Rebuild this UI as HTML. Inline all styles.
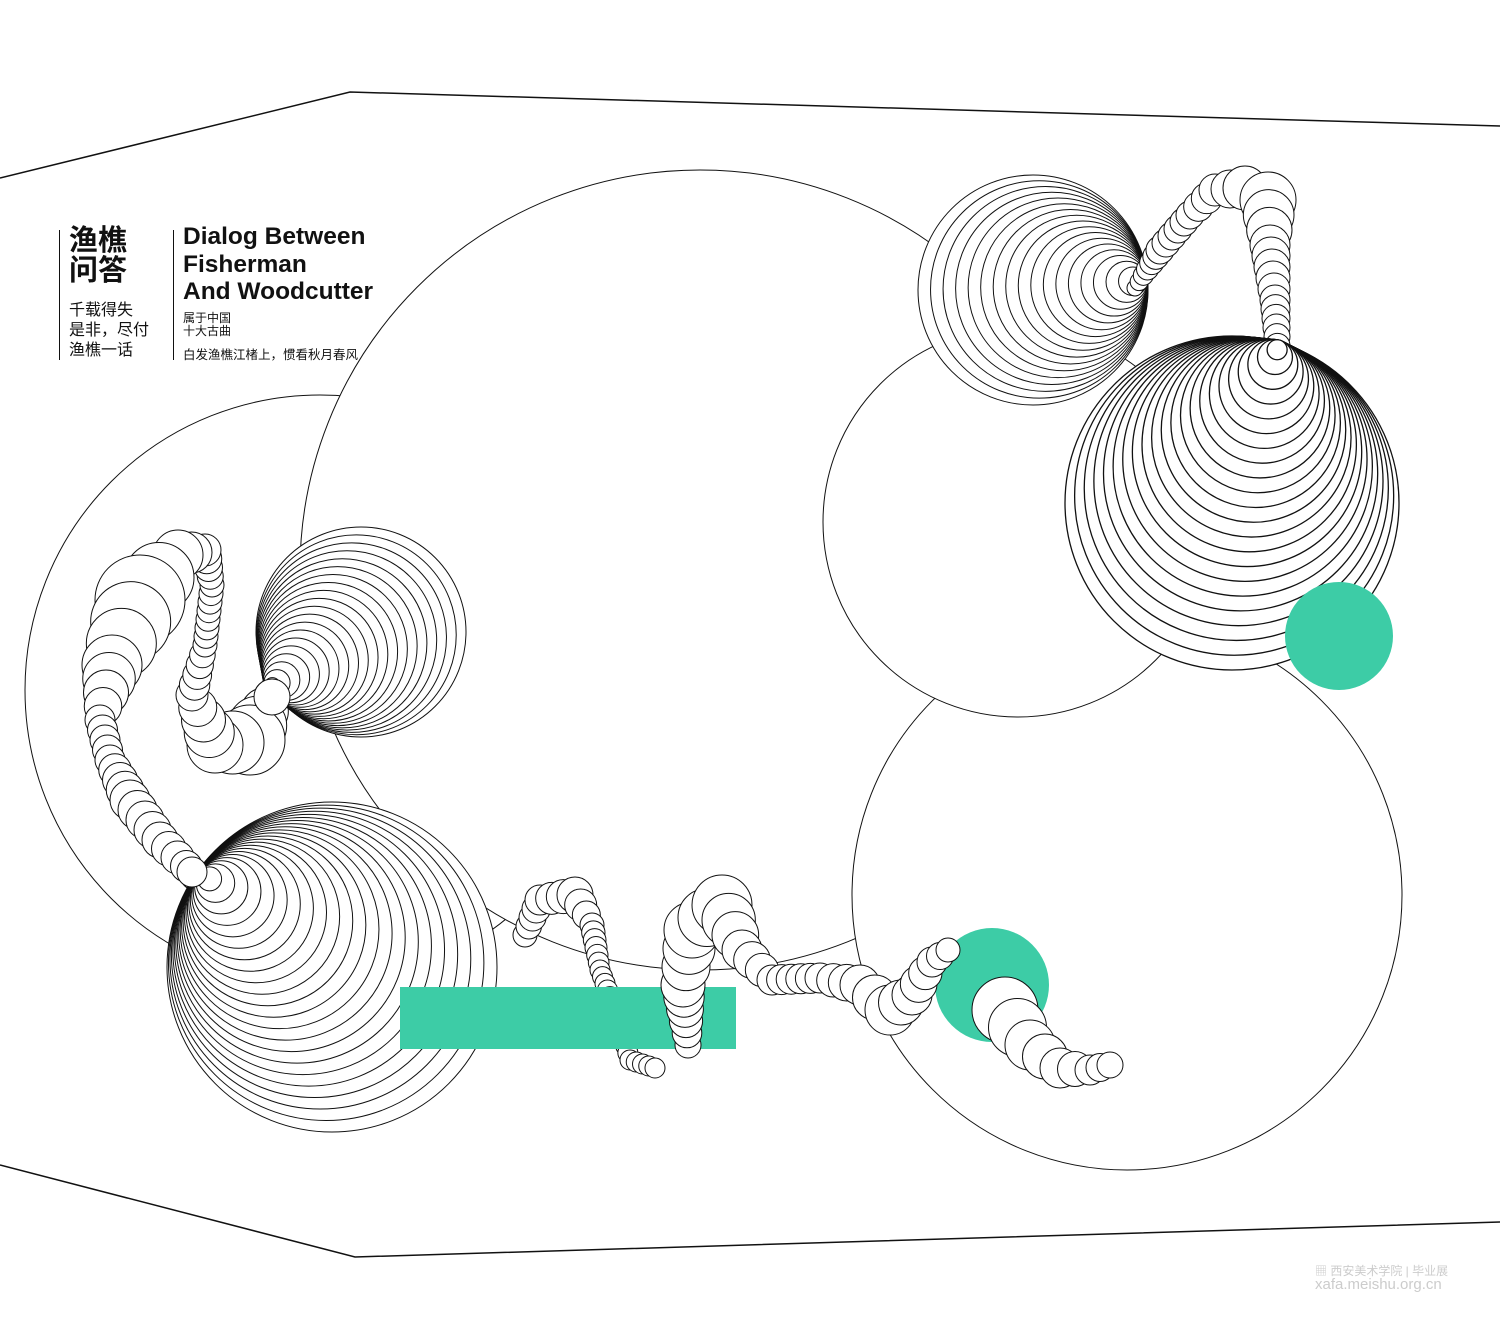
<!DOCTYPE html>
<html><head><meta charset="utf-8">
<style>
html,body{margin:0;padding:0;background:#fff;}
#w{position:relative;width:1500px;height:1319px;overflow:hidden;background:#fff;}
svg{position:absolute;left:0;top:0;}
.t{position:absolute;font-family:"Liberation Sans","Noto Sans CJK SC",sans-serif;color:#111;white-space:nowrap;}
</style></head><body>
<div id="w">
<svg id="s" width="1500" height="1319" viewBox="0 0 1500 1319" fill="none" stroke="#111" stroke-width="1">
<polyline points="0,178 350,92 1500,126" stroke-width="1.5"/>
<polyline points="0,1165 355,1257 1500,1222" stroke-width="1.5"/>
<circle cx="320" cy="690" r="295"/>
<circle cx="700" cy="570" r="400" fill="#fff"/>
<circle cx="1127" cy="895" r="275" fill="#fff"/>
<circle cx="1018" cy="522" r="195" fill="#fff"/>
<g id="g"></g>
</svg>
<div class="t" style="left:59px;top:230px;width:1px;height:130px;background:#111"></div>
<div class="t" style="left:173px;top:230px;width:1px;height:130px;background:#111"></div>
<div class="t" style="left:69px;top:226px;font-size:29px;font-weight:bold;line-height:30px">渔樵<br>问答</div>
<div class="t" style="left:69px;top:301px;font-size:16px;line-height:20px">千载得失<br>是非，尽付<br>渔樵一话</div>
<div class="t" style="left:183px;top:223px;font-size:24.5px;font-weight:bold;line-height:27.5px">Dialog Between<br>Fisherman<br>And Woodcutter</div>
<div class="t" style="left:183px;top:312px;font-size:12px;line-height:13px">属于中国<br>十大古曲</div>
<div class="t" style="left:183px;top:344px;font-size:12.5px;">白发渔樵江楮上，惯看秋月春风</div>
<div class="t" style="left:1315px;top:1276px;font-size:15px;color:#ccc">xafa.meishu.org.cn</div>
<div class="t" style="left:1315px;top:1262px;font-size:12px;color:#ccc">▦ 西安美术学院 | 毕业展</div>
</div>
<script>
var g=document.getElementById('g'),NS='http://www.w3.org/2000/svg';
function c(x,y,r,f,sw){var e=document.createElementNS(NS,'circle');e.setAttribute('cx',x);e.setAttribute('cy',y);e.setAttribute('r',r);e.setAttribute('fill',f||'#fff');if(sw)e.setAttribute('stroke-width',sw);g.appendChild(e);}
function fam(cx,cy,R,px,py,n,rmin,sw){for(var i=0;i<n;i++){var r=R-(R-rmin)*i/(n-1);var k=r/R;var x=px+(cx-px)*k,y=py+(cy-py)*k;c(x,y,r,'#fff',sw);}}
function chain(p){for(var i=0;i<p.length-1;i++){var a=p[i],b=p[i+1];var d=Math.hypot(b[0]-a[0],b[1]-a[1]);var st=Math.max(1,Math.round(d/((a[2]+b[2])*0.35)));for(var j=0;j<st;j++){var t=j/st;c(a[0]+(b[0]-a[0])*t,a[1]+(b[1]-a[1])*t,a[2]+(b[2]-a[2])*t);}}var l=p[p.length-1];c(l[0],l[1],l[2]);}
fam(1033,290,115,1147,280,18,8);
chain([[1135,288,8],[1160,250,14],[1190,215,14],[1215,190,16],[1245,188,22],[1268,200,28],[1270,245,20],[1275,300,15],[1278,355,12]]);
fam(1232,503,167,1280,340,22,10,1.3);
chain([[272,697,18],[250,740,35],[215,745,28],[192,695,16],[205,645,12],[212,585,12],[205,550,16],[178,555,25],[140,600,45],[112,665,30],[100,720,15],[110,760,15],[130,800,20],[160,840,18],[195,875,15]]);
fam(361,632,105,265,690,20,8);
c(272,697,18);
fam(332,967,165,200,872,22,12);
c(192,872,15);
chain([[525,935,12],[540,900,15],[575,895,18],[592,925,12],[600,970,10],[615,1010,10],[630,1060,10],[655,1068,10]]);
</script>
<svg width="1500" height="1319" style="position:absolute;left:0;top:0" fill="none">
<rect x="400" y="987" width="336" height="62" fill="#3dcca6"/>
<circle cx="1339" cy="636" r="54" fill="#3dcca6"/>
<circle cx="992" cy="985" r="57" fill="#3dcca6"/>
<g id="g2" stroke="#111" fill="#fff"></g>
</svg>
<script>
var g2=document.getElementById('g2');
function c2(x,y,r){var e=document.createElementNS(NS,'circle');e.setAttribute('cx',x);e.setAttribute('cy',y);e.setAttribute('r',r);g2.appendChild(e);}
function chain2(p){for(var i=0;i<p.length-1;i++){var a=p[i],b=p[i+1];var d=Math.hypot(b[0]-a[0],b[1]-a[1]);var st=Math.max(1,Math.round(d/((a[2]+b[2])*0.35)));for(var j=0;j<st;j++){var t=j/st;c2(a[0]+(b[0]-a[0])*t,a[1]+(b[1]-a[1])*t,a[2]+(b[2]-a[2])*t);}}var l=p[p.length-1];c2(l[0],l[1],l[2]);}
chain2([[688,1045,13],[683,985,22],[692,930,28],[722,905,30],[742,950,20],[772,980,15],[820,978,15],[860,985,20],[890,1010,25],[912,995,20],[932,962,15],[948,950,12]]);
chain2([[1005,1010,33],[1030,1045,25],[1060,1068,20],[1090,1070,15],[1110,1065,13]]);
</script>
</body></html>
